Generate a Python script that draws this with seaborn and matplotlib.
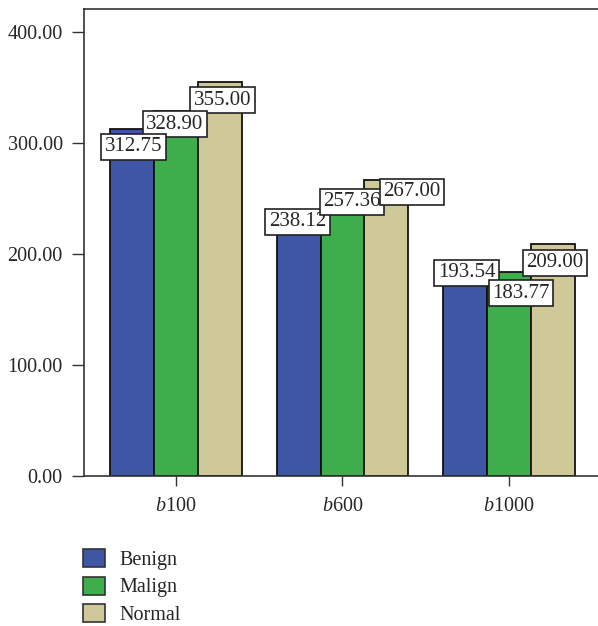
import matplotlib
matplotlib.use("Agg")
import matplotlib.pyplot as plt
import seaborn as sns
import pandas as pd

# ---- data ----
categories = ["b100", "b600", "b1000"]
groups = ["Benign", "Malign", "Normal"]
benign = [312.75, 238.12, 193.54]
malign = [328.90, 257.36, 183.77]
normal = [355.00, 267.00, 209.00]
y_ticks = [0, 100, 200, 300, 400]

colors = ["#3F56A5", "#3DAE4B", "#CFC999"]

# label offsets (pixels) per group/category, positions only
label_dx = [[1.5, -1, 1.5], [-1, 9.5, 12], [3, 25.5, 2]]
label_dy = [[-17.5, -10, -11.5], [-13, -11, -21], [-18, -12, -18.5]]
label_z = [[7, 5, 5], [6, 6, 6], [5, 7, 7]]

values = {"Benign": benign, "Malign": malign, "Normal": normal}
rows = []
for g in groups:
    for c, v in zip(categories, values[g]):
        rows.append({"cat": c, "group": g, "value": v})
df = pd.DataFrame(rows)

sns.set_style("ticks")
plt.rcParams["font.family"] = ["Liberation Serif", "DejaVu Serif"]
plt.rcParams["mathtext.fontset"] = "custom"
plt.rcParams["mathtext.it"] = "Liberation Serif:italic"
plt.rcParams["mathtext.rm"] = "Liberation Serif"

FS = 14.5
LFS = 15
fig = plt.figure(figsize=(5.98, 6.26), dpi=100)
ax = fig.add_axes([83.7 / 598, (626 - 476) / 626, 1 - 83.7 / 598, (476 - 9.3) / 626])

sns.barplot(data=df, x="cat", y="value", hue="group", palette=colors,
            width=0.79, gap=0, edgecolor="#111111", linewidth=1.3,
            saturation=1, ax=ax, errorbar=None)

ax.set_ylim(0, 420.8)
ax.set_xlim(-0.554, 2.535)
ax.set_yticks(y_ticks)
ax.set_yticklabels([f"{t:.2f}" for t in y_ticks], fontsize=FS)
ax.set_xticks(range(len(categories)))
ax.set_xticklabels([f"$b$" + c[1:] for c in categories], fontsize=FS)
ax.set_xlabel("")
ax.set_ylabel("")
ax.tick_params(axis="y", length=8.4, width=1, pad=6.7, color="#333333")
ax.tick_params(axis="x", length=7.2, width=1, pad=8, color="#333333")
for s in ["left", "bottom", "top"]:
    ax.spines[s].set_visible(True)
    ax.spines[s].set_color("#333333")
    ax.spines[s].set_linewidth(1.2)
ax.spines["right"].set_visible(False)

# value labels
for gi, cont in enumerate(ax.containers):
    vals = values[groups[gi]]
    for ci, bar in enumerate(cont):
        xc = bar.get_x() + bar.get_width() / 2
        ax.annotate(f"{vals[ci]:.2f}", xy=(xc, vals[ci]),
                    xytext=(label_dx[gi][ci], label_dy[gi][ci]),
                    textcoords="offset pixels", ha="center", va="center",
                    fontsize=LFS, zorder=label_z[gi][ci],
                    bbox=dict(boxstyle="square,pad=0.17", fc="white",
                              ec="#222222", lw=1.2))

sns.move_legend(ax, loc="upper left", bbox_to_anchor=(83 / 598, 1 - 549 / 626),
                bbox_transform=fig.transFigure, title=None, frameon=False,
                fontsize=FS, handlelength=1.1, handleheight=1.0,
                handletextpad=0.7, labelspacing=0.33, borderpad=0,
                borderaxespad=0)
for h in ax.get_legend().legend_handles:
    h.set_edgecolor("#333333")
    h.set_linewidth(1.2)

fig.savefig("out.png", dpi=100)
